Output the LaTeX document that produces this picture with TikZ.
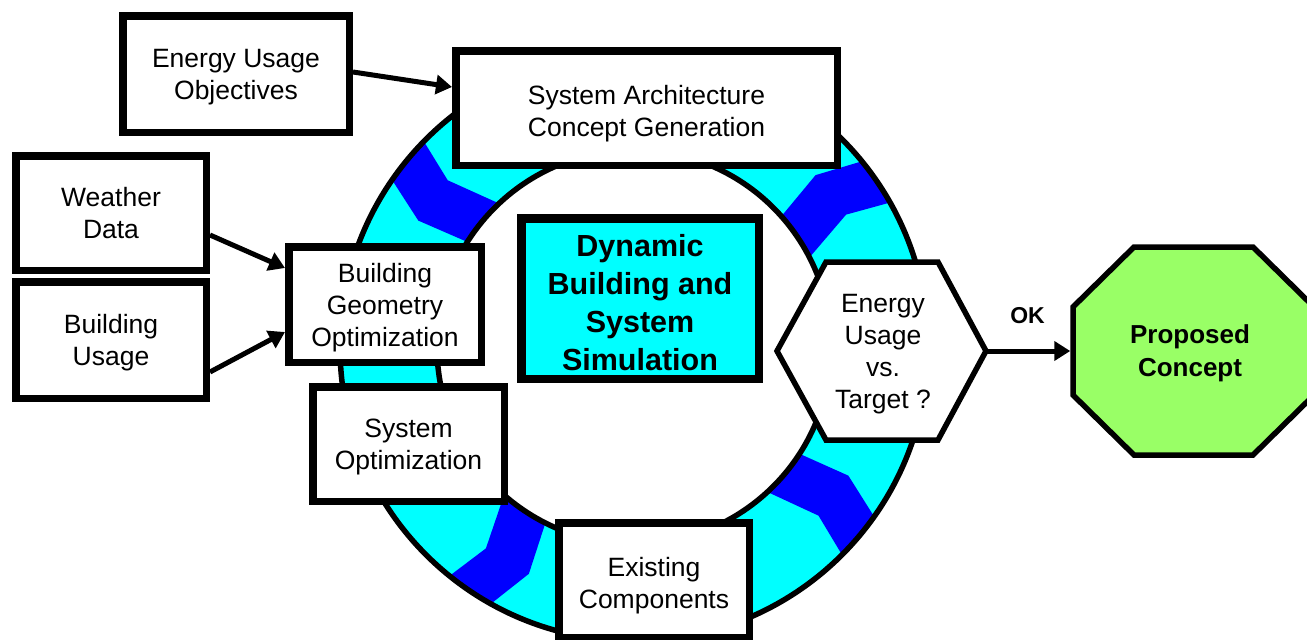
\documentclass[tikz,border=0pt]{standalone}
\usepackage{fontspec}
\setmainfont{Liberation Sans}
\usetikzlibrary{arrows.meta}
\definecolor{ringcyan}{RGB}{0,255,255}
\definecolor{chevblue}{RGB}{0,0,255}
\definecolor{okgreen}{RGB}{153,255,102}
\newcommand{\nodetext}[2]{\raisebox{#1}[\height][\depth]{\begin{tabular}{@{}c@{}}#2\end{tabular}}}
\tikzset{
  box/.style={draw=black, fill=white, line width=7.5pt, inner sep=0pt, font=\fontsize{26.5}{32}\selectfont},
  simbox/.style={draw=black, fill=ringcyan, line width=8.5pt, inner sep=0pt, font=\bfseries\fontsize{30.5}{38}\selectfont},
  flow/.style={line width=5pt, -{Triangle[length=16pt,width=19pt]}},
  ringline/.style={line width=5.5pt},
  chev/.style={fill=chevblue},
  shapeline/.style={draw=black, line width=5.5pt, line join=miter},
  lbl/.style={inner sep=0pt, font=\fontsize{26.5}{32}\selectfont},
  boldlbl/.style={inner sep=0pt, font=\bfseries\fontsize{26}{33}\selectfont},
  oklbl/.style={inner sep=0pt, font=\bfseries\fontsize{23}{27}\selectfont},
}
\begin{document}
\begin{tikzpicture}[x=1pt,y=1pt]
\useasboundingbox (0,0) rectangle (1307,-640);
\clip (0,0) rectangle (1307,-640);
% ring
\coordinate (rc) at (634,-347);
\fill[ringcyan] (rc) circle[radius=294];
\begin{scope}[shift={(rc)}]
\foreach \c in {140.5,34.3,-40.1,-124}{
  \fill[chev] ({\c-7.27}:197) -- ({\c+3.4-5.73}:250) -- ({\c-4.87}:294)
    -- ({\c+4.87}:294) -- ({\c+3.4+5.73}:250) -- ({\c+7.27}:197) -- cycle;
}
\end{scope}
\draw[ringline, fill=white] (rc) circle[radius=197];
\draw[ringline] (rc) circle[radius=294];
% boxes
\node[box, minimum width=226.5pt, minimum height=116.5pt] (euo) at (236,-74) {\nodetext{-3pt}{Energy Usage\\Objectives}};
\node[box, minimum width=381.5pt, minimum height=114.5pt] (sac) at (646.5,-108) {\nodetext{-6pt}{System Architecture\\Concept Generation}};
\node[box, minimum width=190.5pt, minimum height=114.5pt] (wd) at (111,-213) {\nodetext{-3pt}{Weather\\Data}};
\node[box, minimum width=190.5pt, minimum height=116.5pt] (bu) at (111,-340) {\nodetext{-3pt}{Building\\Usage}};
\node[box, minimum width=192.5pt, minimum height=115.5pt] (bgo) at (385,-304.5) {\nodetext{-4pt}{Building\\Geometry\\Optimization}};
\node[box, minimum width=191.5pt, minimum height=114.5pt] (so) at (408.5,-444) {\nodetext{-3.5pt}{System\\Optimization}};
\node[box, minimum width=190.5pt, minimum height=114.5pt] (ec) at (654,-580) {\nodetext{-6pt}{Existing\\Components}};
\node[simbox, minimum width=237.5pt, minimum height=160.5pt] (sim) at (640,-298.5) {\nodetext{-7pt}{Dynamic\\Building and\\System\\Simulation}};
% hexagon
\coordinate (hL) at (777,-351);
\coordinate (hTL) at (826,-262);
\coordinate (hTR) at (938,-262);
\coordinate (hR) at (986,-351);
\coordinate (hBR) at (938,-440);
\coordinate (hBL) at (826,-440);
\draw[shapeline, fill=white] (hL) -- (hTL) -- (hTR) -- (hR) -- (hBR) -- (hBL) -- cycle;
\node[lbl] (hex) at (883,-351) {\nodetext{-3.5pt}{Energy\\Usage\\vs.\\Target ?}};
% octagon
\coordinate (oL) at (1070.25,-351);
\draw[shapeline, fill=okgreen] (1073,-307) -- (1134,-247) -- (1253,-247) -- (1314,-307)
  -- (1314,-395) -- (1253,-455) -- (1134,-455) -- (1073,-395) -- cycle;
\node[boldlbl] (oct) at (1190,-351) {\nodetext{-2.5pt}{Proposed\\Concept}};
% connectors
\draw[flow] (hR) -- (oL);
\node[oklbl] (ok) at (1027.5,-316) {OK};
\draw[flow] ([yshift=2pt]euo.east) -- ([yshift=21pt]sac.west);
\draw[flow] ([yshift=-22pt]wd.east) -- ([yshift=36.5pt]bgo.west);
\draw[flow] ([yshift=-32pt]bu.east) -- ([yshift=-27.5pt]bgo.west);
\end{tikzpicture}
\end{document}
